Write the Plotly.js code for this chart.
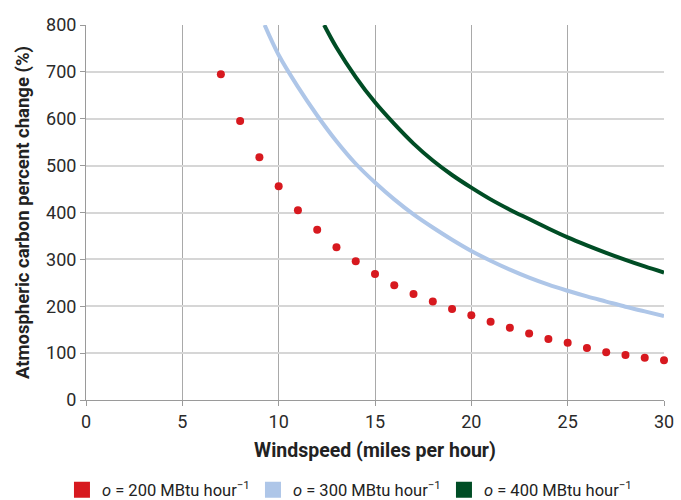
<!DOCTYPE html>
<html>
<head>
<meta charset="utf-8">
<script src="https://cdn.plot.ly/plotly-3.0.1.min.js"></script>
<style>
html,body{margin:0;padding:0;background:#fff;}
#chart{width:681px;height:500px;}
</style>
</head>
<body>
<div id="chart"></div>
<script>
// Windspeed (mph) and atmospheric carbon percent change (%)
const speed200 = [7, 8, 9, 10, 11, 12, 13, 14, 15, 16, 17, 18, 19, 20, 21, 22, 23, 24, 25, 26, 27, 28, 29, 30];
const carbon200 = [695, 595, 518, 456, 405, 363, 326, 296, 269, 245, 226, 210, 194, 181, 167, 154, 142, 130, 122, 111, 102, 96, 90, 85];

const speed300 = [9.27, 10, 11, 12, 13, 14, 15, 16, 17, 18, 19, 20, 21, 22, 23, 24, 25, 26, 27, 28, 29, 30];
const carbon300 = [800, 736, 668, 607, 552, 504, 464, 428, 396, 368, 342, 318, 297, 278, 261, 246, 233, 221, 210, 199, 189, 179];

const speed400 = [12.36, 13, 14, 15, 16, 17, 18, 19, 20, 21, 22, 23, 24, 25, 26, 27, 28, 29, 30];
const carbon400 = [800, 752, 689, 635, 589, 547, 511, 480, 453, 428, 406, 386, 366, 347, 330, 314, 299, 285, 272];

const legendNames = [
  '<i>o</i> = 200 MBtu hour<sup>\u22121</sup>',
  '<i>o</i> = 300 MBtu hour<sup>\u22121</sup>',
  '<i>o</i> = 400 MBtu hour<sup>\u22121</sup>'
];
const xTicks = [0, 5, 10, 15, 20, 25, 30];
const yTicks = [0, 100, 200, 300, 400, 500, 600, 700, 800];

const RED = '#d7191f', BLUE = '#aec6e8', GREEN = '#004d25';
const FONT = 'Roboto, Liberation Sans, sans-serif';

const traces = [
  {x: speed300, y: carbon300, mode: 'lines', line: {color: BLUE, width: 4, shape: 'spline'}, showlegend: false, hoverinfo: 'skip'},
  {x: speed400, y: carbon400, mode: 'lines', line: {color: GREEN, width: 4, shape: 'spline'}, showlegend: false, hoverinfo: 'skip'},
  {x: speed200, y: carbon200, mode: 'markers', marker: {color: RED, size: 8}, showlegend: false, cliponaxis: false},
  {x: [null], y: [null], mode: 'markers', name: legendNames[0], marker: {color: RED, symbol: 'square', size: 16}},
  {x: [null], y: [null], mode: 'markers', name: legendNames[1], marker: {color: BLUE, symbol: 'square', size: 16}},
  {x: [null], y: [null], mode: 'markers', name: legendNames[2], marker: {color: GREEN, symbol: 'square', size: 16}}
];

const layout = {
  width: 681, height: 500,
  margin: {l: 86, r: 17, t: 25, b: 100},
  paper_bgcolor: '#fff', plot_bgcolor: '#fff',
  font: {family: FONT, size: 17, color: '#2a2a2a'},
  xaxis: {
    range: [0, 30], tickvals: xTicks, ticktext: xTicks.map(String),
    showgrid: true, gridcolor: '#a9a9a9', gridwidth: 1,
    zeroline: false, showline: true, linecolor: '#9a9a9a', linewidth: 1,
    ticks: 'outside', ticklen: 5, tickcolor: '#9a9a9a',
    tickfont: {family: FONT, size: 18, color: '#2a2a2a'},
    title: {text: 'Windspeed (miles per hour)', font: {family: FONT, size: 19.5, color: '#222', weight: 'bold'}, standoff: 12},
    fixedrange: true
  },
  yaxis: {
    range: [0, 800], tickvals: yTicks, ticktext: yTicks.map(String),
    showgrid: true, gridcolor: '#d6d6d6', gridwidth: 2,
    zeroline: false, showline: true, linecolor: '#9a9a9a', linewidth: 1,
    ticks: 'outside', ticklen: 5, tickcolor: '#9a9a9a',
    tickfont: {family: FONT, size: 18, color: '#2a2a2a'},
    title: {text: 'Atmospheric carbon percent change (%)', font: {family: FONT, size: 18.5, color: '#222', weight: 'bold'}, standoff: 11},
    fixedrange: true
  },
  legend: {
    orientation: 'h', xref: 'container', yref: 'container',
    x: 0.091, xanchor: 'left', y: 0.02, yanchor: 'middle',
    font: {family: FONT, size: 16.5, color: '#222'},
    entrywidth: 146, entrywidthmode: 'pixels', itemwidth: 30,
    bgcolor: 'rgba(0,0,0,0)'
  },
  showlegend: true
};

Plotly.newPlot('chart', traces, layout, {displayModeBar: false, staticPlot: true});
</script>
</body>
</html>
